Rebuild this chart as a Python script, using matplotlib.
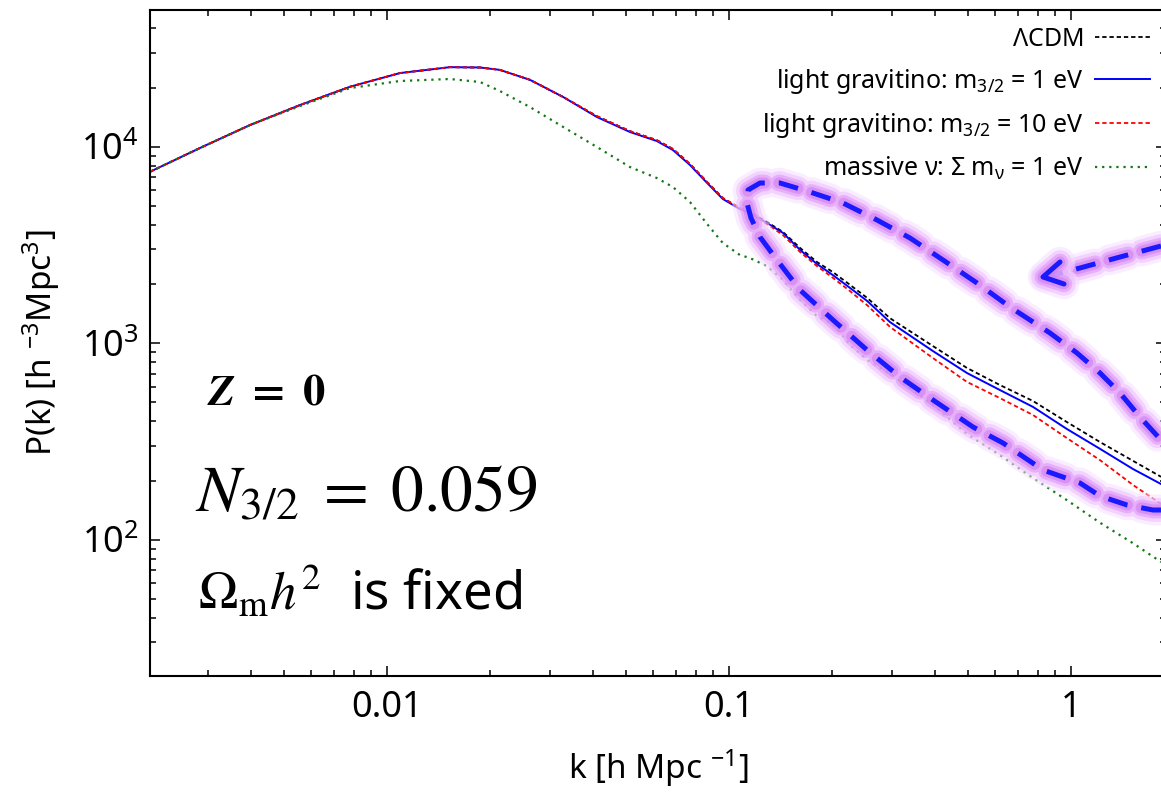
import matplotlib
matplotlib.use("Agg")
import matplotlib.pyplot as plt
import matplotlib.patheffects as pe
from matplotlib.ticker import FuncFormatter, LogLocator, NullFormatter

# ---- data ----
k = [0.00203, 0.00284, 0.00398, 0.00557, 0.0078, 0.01091, 0.01527, 0.01871,
     0.02138, 0.02618, 0.03276, 0.04111, 0.05135, 0.06152, 0.06855, 0.07691,
     0.0863, 0.09594, 0.1076, 0.1151, 0.1291, 0.1439, 0.1615, 0.1808, 0.2014,
     0.226, 0.2536, 0.2958, 0.3945, 0.4966, 0.6194, 0.7745, 0.9728, 1.216,
     1.518, 1.834]

pk_lcdm = [7460, 9850, 12900, 16300, 20200, 23700, 25400, 25300, 24600, 21900,
           17900, 14300, 12000, 10800, 9740, 8170, 6610, 5480, 4880, 4650, 4140,
           3680, 3050, 2590, 2300, 1980, 1700, 1340, 968, 748, 613, 508, 397,
           314, 252, 209]

pk_grav1 = [7460, 9850, 12900, 16300, 20200, 23700, 25400, 25300, 24600, 21900,
            17900, 14160, 11880, 10690, 9620, 8070, 6540, 5420, 4820, 4600, 4090,
            3640, 2980, 2530, 2220, 1910, 1640, 1280, 913, 705, 578, 474, 366,
            290, 229, 192]

pk_grav10 = [7460, 9850, 12900, 16300, 20200, 23700, 25400, 25300, 24600, 21900,
             17900, 14300, 12000, 10800, 9740, 8170, 6610, 5480, 4880, 4600, 4040,
             3550, 2910, 2470, 2150, 1840, 1560, 1210, 841, 635, 526, 431, 329,
             254, 190, 152]

pk_nu = [7460, 9850, 12900, 16110, 19890, 21600, 22110, 21350, 19210, 15920,
         12600, 9965, 7882, 6928, 6236, 5232, 4042, 3235, 2811, 2714, 2471, 2097,
         1659, 1375, 1252, 979, 822, 697, 485, 345, 270, 206, 159, 122, 96, 77]

labels = [r"$\Lambda$CDM",
          r"light gravitino: m$_{3/2}$ = 1 eV",
          r"light gravitino: m$_{3/2}$ = 10 eV",
          r"massive ν: Σ m$_{\mathrm{ν}}$ = 1 eV"]

# hand drawn highlight (image pixels of the reference)
loop_px = [(1161, 510), (1153, 510), (1127, 505), (1100, 496), (1080, 483),
           (1043, 470), (1003, 443), (973, 427), (933, 400), (900, 377),
           (867, 350), (833, 320), (800, 290), (777, 260), (760, 237),
           (751, 218), (747, 203), (748, 190), (760, 183), (780, 183),
           (810, 192), (843, 203), (877, 220), (910, 238), (943, 260),
           (977, 283), (1010, 307), (1050, 333), (1077, 353), (1100, 373),
           (1120, 393), (1140, 417), (1161, 440)]
arrow_px = [(1161, 246), (1120, 257), (1080, 268), (1045, 277)]
head_px = [(1060, 262), (1043, 277), (1064, 284)]

# ---- style ----
plt.rcParams["font.family"] = ["Noto Sans", "DejaVu Sans"]
plt.rcParams["mathtext.fontset"] = "custom"
plt.rcParams["mathtext.rm"] = "Noto Sans"
plt.rcParams["mathtext.it"] = "Noto Sans:italic"

fig = plt.figure(figsize=(11.61, 7.92), dpi=100)
L, R, T, B = 150, 1166, 10, 676
ax = fig.add_axes([L / 1161, 1 - B / 792, (R - L) / 1161, (B - T) / 792])


def to_ax(p):
    return (p[0] - L) / (R - L), (B - p[1]) / (B - T)


ax.plot(k, pk_lcdm, color="black", lw=1.3, ls=(0, (2.4, 1.6)), label=labels[0])
ax.plot(k, pk_grav1, color="#0000ff", lw=1.4, ls="-", label=labels[1])
ax.plot(k, pk_grav10, color="#ff0000", lw=1.3, ls=(0, (2.4, 1.6)), label=labels[2])
ax.plot(k, pk_nu, color="#147814", lw=1.6, ls=(0, (1, 2.2)), label=labels[3])

ax.set_xscale("log")
ax.set_yscale("log")
ax.set_xlim(0.002028, 1.896)
ax.set_ylim(20.25, 49630)

ax.xaxis.set_major_locator(LogLocator(base=10, numticks=10))
ax.xaxis.set_minor_locator(LogLocator(base=10, subs=range(2, 10), numticks=20))
ax.xaxis.set_major_formatter(FuncFormatter(lambda v, pos: "%g" % v))
ax.xaxis.set_minor_formatter(NullFormatter())
ax.yaxis.set_minor_formatter(NullFormatter())

ax.tick_params(which="both", direction="in", top=True, right=True, width=1.1,
               labelsize=26)
ax.tick_params(axis="x", pad=10)
ax.tick_params(axis="y", pad=8)
ax.tick_params(which="major", length=7)
ax.tick_params(which="minor", length=4)
for s in ax.spines.values():
    s.set_linewidth(1.5)

ax.set_xlabel(r"k [h Mpc $^{-1}$]", fontsize=24, labelpad=15)
ax.set_ylabel(r"P(k) [h $^{-3}$Mpc$^{3}$]", fontsize=24, labelpad=14)

leg = ax.legend(loc="upper right", bbox_to_anchor=to_ax((1150, 27)),
                frameon=False, markerfirst=False, fontsize=18, borderpad=0,
                borderaxespad=0, handlelength=2.2, handletextpad=0.45,
                labelspacing=0.6)
for t in leg.get_texts():
    t.set_ha("right")
leg._legend_box.align = "right"

# text annotations
ax.text(*to_ax((207, 405)), r"$\mathbfit{Z}\ \mathbf{=\ 0}$", transform=ax.transAxes,
        fontsize=32, math_fontfamily="stix", va="baseline")
ax.text(*to_ax((195, 512)), r"$N_{3/2}\;=\;0.059$", transform=ax.transAxes,
        fontsize=47, math_fontfamily="stix", va="baseline")
ax.text(*to_ax((198, 610)), r"$\Omega_{\mathrm{m}}h^2$  is fixed", transform=ax.transAxes,
        fontsize=38, math_fontfamily="stix", va="baseline", family="Noto Sans")

# glowing hand drawn loop and arrow
glow = [pe.Stroke(linewidth=22, foreground="#f6dcff", alpha=0.5, capstyle="round"),
        pe.Stroke(linewidth=17, foreground="#ecb8ff", alpha=0.5, capstyle="round"),
        pe.Stroke(linewidth=12, foreground="#de92f7", alpha=0.55, capstyle="round"),
        pe.Stroke(linewidth=8, foreground="#cc78ef", alpha=0.5, capstyle="round"),
        pe.Normal()]
for pts in (loop_px, arrow_px, head_px):
    xs, ys = zip(*[to_ax(p) for p in pts])
    ls = (0, (4.0, 2.8)) if pts is not head_px else "-"
    ax.plot(xs, ys, transform=ax.transAxes, color="#1a1aff", lw=3.6, ls=ls,
            path_effects=glow, clip_on=False, zorder=5, solid_capstyle="round")

fig.savefig("out.png", dpi=100)
